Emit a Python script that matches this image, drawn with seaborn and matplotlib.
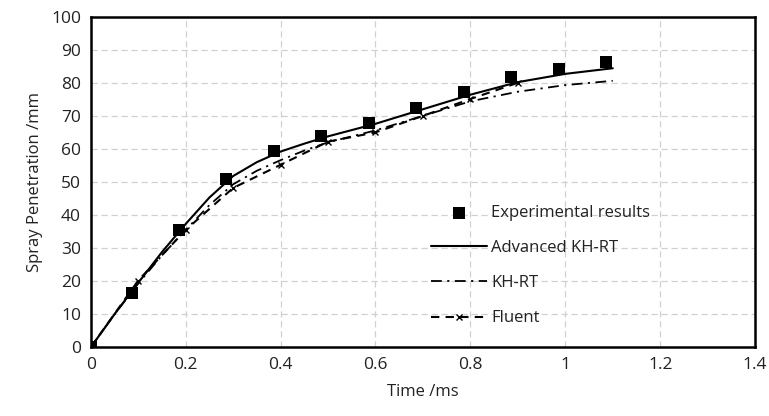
import matplotlib
matplotlib.use("Agg")
import matplotlib.pyplot as plt
import seaborn as sns

# Experimental data
exp_time = [0.0, 0.086, 0.186, 0.286, 0.386, 0.486, 0.586, 0.686, 0.786, 0.886, 0.986, 1.086]
exp_pen = [0.0, 16.5, 35.6, 51.0, 59.3, 64.0, 67.8, 72.3, 77.3, 81.7, 84.3, 86.2]

# Advanced KH-RT model
adv_time = [0.0, 0.05, 0.1, 0.15, 0.2, 0.25, 0.3, 0.35, 0.4, 0.45, 0.5, 0.6, 0.7, 0.8, 0.9, 1.0, 1.1]
adv_pen = [0.0, 10.0, 19.5, 28.8, 37.3, 45.3, 51.8, 56.0, 59.2, 61.6, 63.8, 67.6, 72.0, 76.4, 80.2, 82.7, 84.4]

# KH-RT model
khrt_time = [0.0, 0.05, 0.1, 0.15, 0.2, 0.25, 0.3, 0.35, 0.4, 0.45, 0.5, 0.6, 0.7, 0.8, 0.9, 1.0, 1.1]
khrt_pen = [0.0, 10.0, 19.3, 27.8, 35.5, 43.0, 49.3, 53.4, 56.6, 59.5, 62.0, 65.6, 70.0, 74.4, 77.3, 79.3, 80.6]

# Fluent model
fluent_time = [0.0, 0.1, 0.2, 0.3, 0.4, 0.5, 0.6, 0.7, 0.8, 0.9]
fluent_pen = [0.0, 20.2, 35.5, 48.2, 55.2, 62.2, 65.0, 70.0, 75.1, 80.0]

sns.set_theme(style="whitegrid")
plt.rcParams['font.family'] = ['Open Sans', 'DejaVu Sans']

fig, ax = plt.subplots(figsize=(7.69, 4.16), dpi=100)

sns.scatterplot(x=exp_time, y=exp_pen, marker='s', s=80, color='black',
                edgecolor='black', linewidth=0, label='Experimental results', ax=ax, zorder=5)
sns.lineplot(x=adv_time, y=adv_pen, color='black', linewidth=1.5,
             label='Advanced KH-RT', ax=ax)
sns.lineplot(x=khrt_time, y=khrt_pen, color='black', linewidth=1.3,
             label='KH-RT', ax=ax)
ax.lines[-1].set_dashes([6, 3, 1.2, 3])
sns.lineplot(x=fluent_time, y=fluent_pen, color='black', linewidth=1.5,
             marker='x', markersize=5, markeredgewidth=1, markeredgecolor='black',
             label='Fluent', ax=ax)
ax.lines[-1].set_dashes([4, 3])

ax.set_xlim(0, 1.4)
ax.set_ylim(0, 100)
ax.set_xticks([0, 0.2, 0.4, 0.6, 0.8, 1.0, 1.2, 1.4])
ax.set_xticklabels(['0', '0.2', '0.4', '0.6', '0.8', '1', '1.2', '1.4'])
ax.set_yticks(range(0, 101, 10))

ax.grid(True, color='#d0d0d0', linestyle=(0, (5, 3)), linewidth=0.9)
for spine in ax.spines.values():
    spine.set_color('black')
    spine.set_linewidth(1.8)
ax.tick_params(length=0, labelsize=12.5, colors='#222222', pad=7)

ax.set_xlabel('Time /ms', fontsize=12, color='#222222', labelpad=8)
ax.set_ylabel('Spray Penetration /mm', fontsize=12, color='#222222', labelpad=6)

leg = ax.legend(loc='upper left', bbox_to_anchor=(0.489, 0.476), frameon=False,
                fontsize=12, handlelength=3.4, labelspacing=1.15, handletextpad=0.25)
for t in leg.get_texts():
    t.set_color('#222222')

fig.subplots_adjust(left=0.118, right=0.982, top=0.96, bottom=0.165)
fig.savefig('out.png', dpi=100)
